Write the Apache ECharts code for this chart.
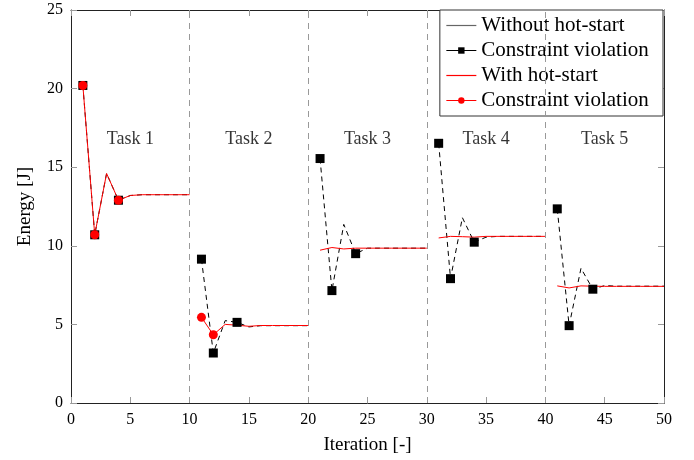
<!DOCTYPE html>
<html>
<head>
<meta charset="utf-8">
<script src="https://cdn.jsdelivr.net/npm/echarts@6/dist/echarts.min.js"></script>
<style>
  html, body { margin: 0; padding: 0; background: #fff; }
  #main { width: 694px; height: 460px; }
</style>
</head>
<body>
<div id="main"></div>
<script>
// iterations and energies
var iterations = [1, 2, 3, 4, 5, 6, 7, 8, 9, 10,
  11, 12, 13, 14, 15, 16, 17, 18, 19, 20,
  21, 22, 23, 24, 25, 26, 27, 28, 29, 30,
  31, 32, 33, 34, 35, 36, 37, 38, 39, 40,
  41, 42, 43, 44, 45, 46, 47, 48, 49, 50];
var withoutHotStart = [20.2, 10.7, 14.6, 12.9, 13.2, 13.25, 13.25, 13.25, 13.25, 13.25,
  9.15, 3.18, 5.24, 5.13, 4.84, 4.92, 4.92, 4.92, 4.92, 4.92,
  15.55, 7.15, 11.36, 9.5, 9.85, 9.85, 9.85, 9.85, 9.85, 9.85,
  16.52, 7.91, 11.79, 10.23, 10.55, 10.6, 10.6, 10.6, 10.6, 10.6,
  12.35, 4.92, 8.57, 7.24, 7.47, 7.43, 7.43, 7.43, 7.43, 7.43];
var withHotStart = [20.2, 10.7, 14.6, 12.9, 13.2, 13.25, 13.25, 13.25, 13.25, 13.25,
  5.45, 4.34, 5.0, 4.95, 4.88, 4.93, 4.93, 4.93, 4.93, 4.93,
  9.72, 9.89, 9.8, 9.85, 9.85, 9.85, 9.85, 9.85, 9.85, 9.85,
  10.5, 10.6, 10.58, 10.55, 10.6, 10.6, 10.6, 10.6, 10.6, 10.6,
  7.45, 7.32, 7.45, 7.43, 7.42, 7.42, 7.42, 7.42, 7.42, 7.42];
var violationIterWithout = [1, 2, 4, 11, 12, 14, 21, 22, 24, 31, 32, 34, 41, 42, 44];
var violationWithout = [20.2, 10.7, 12.9, 9.15, 3.18, 5.13, 15.55, 7.15, 9.5, 16.52, 7.91, 10.23, 12.35, 4.92, 7.24];
var violationIterWith = [1, 2, 4, 11, 12];
var violationWith = [20.2, 10.7, 12.9, 5.45, 4.34];
var taskBounds = [10, 20, 30, 40];
var taskNames = ["Task 1", "Task 2", "Task 3", "Task 4", "Task 5"];
var taskLabelX = [5, 15, 25, 35, 45];
var taskLabelY = [16.8, 16.8, 16.8, 16.8, 16.8];

var serif = "Liberation Serif";
var lineIcon = "path://M0,0 L30,0 L30,1.2 L0,1.2 Z";

// split lines at task boundaries
function withBreaks(ys) {
    var out = [];
    for (var i = 0; i < iterations.length; i++) {
        out.push([iterations[i], ys[i]]);
        if (taskBounds.indexOf(iterations[i]) >= 0) {
            out.push([iterations[i] + 0.5, "-"]);
        }
    }
    return out;
}
function pairs(xs, ys) {
    return xs.map(function (x, i) { return [x, ys[i]]; });
}

var chartDom = document.getElementById("main");
var myChart = echarts.init(chartDom, null, { renderer: "canvas" });

var axisCommon = {
    min: 0,
    interval: 5,
    axisLine: { show: true, onZero: false, lineStyle: { color: "#222", width: 1 } },
    axisTick: { show: true, inside: true, length: 6, lineStyle: { color: "#999" } },
    splitLine: { show: false },
};

var option = {
    backgroundColor: "#fff",
    animation: false,
    grid: { left: 71, right: 30, top: 10, bottom: 56 },
    textStyle: { fontFamily: serif },
    xAxis: [
        Object.assign({}, axisCommon, {
            type: "value",
            max: 50,
            name: "Iteration [-]",
            nameLocation: "middle",
            nameGap: 33,
            nameTextStyle: { fontFamily: serif, fontSize: 19, color: "#000" },
            axisLabel: { fontFamily: serif, fontSize: 16, color: "#000", margin: 9 },
        }),
        Object.assign({}, axisCommon, {
            type: "value",
            max: 50,
            position: "top",
            axisLabel: { show: false },
        }),
    ],
    yAxis: [
        Object.assign({}, axisCommon, {
            type: "value",
            max: 25,
            name: "Energy [J]",
            nameLocation: "middle",
            nameGap: 36,
            nameTextStyle: { fontFamily: serif, fontSize: 19, color: "#000" },
            axisLabel: { fontFamily: serif, fontSize: 16, color: "#000", margin: 8 },
        }),
        Object.assign({}, axisCommon, {
            type: "value",
            max: 25,
            position: "right",
            axisLabel: { show: false },
        }),
    ],
    legend: {
        orient: "vertical",
        right: 31,
        top: 10,
        itemWidth: 30,
        itemHeight: 8,
        itemGap: 4,
        padding: [5, 9, 5, 6],
        backgroundColor: "#fff",
        borderColor: "#333",
        borderWidth: 1,
        borderRadius: 0,
        textStyle: { fontFamily: serif, fontSize: 21, color: "#000" },
        data: [
            { name: "Without hot-start", icon: lineIcon, itemStyle: { color: "#666", opacity: 1, borderWidth: 0 } },
            { name: "Constraint violation", lineStyle: { opacity: 1, width: 1, type: "solid", color: "#000" } },
            { name: "With hot-start", icon: lineIcon, itemStyle: { color: "#ff0000", opacity: 1, borderWidth: 0, borderColor: "#ff0000" } },
            { name: "Constraint violation ", lineStyle: { opacity: 1, width: 1, type: "solid", color: "#f00" } },
        ],
    },
    series: [
        {
            name: "Without hot-start",
            type: "line",
            symbol: "none",
            data: withBreaks(withoutHotStart),
            lineStyle: { color: "#000", width: 1, type: [5, 4] },
            itemStyle: { color: "#000" },
            z: 2,
            markLine: {
                silent: true,
                symbol: ["none", "none"],
                label: { show: false },
                lineStyle: { color: "#999", type: [6, 5], width: 1 },
                data: taskBounds.map(function (b) { return { xAxis: b }; }),
            },
        },
        {
            name: "With hot-start",
            type: "line",
            symbol: "none",
            data: withBreaks(withHotStart),
            lineStyle: { color: "#f00", width: 1 },
            itemStyle: { color: "#f00" },
            z: 3,
        },
        {
            name: "Constraint violation",
            type: "line",
            symbol: "rect",
            symbolSize: 9,
            showAllSymbol: true,
            data: pairs(violationIterWithout, violationWithout),
            lineStyle: { opacity: 0 },
            itemStyle: { color: "#000" },
            z: 4,
        },
        {
            name: "Constraint violation ",
            type: "line",
            symbol: "circle",
            symbolSize: 9,
            showAllSymbol: true,
            data: pairs(violationIterWith, violationWith),
            lineStyle: { opacity: 0 },
            itemStyle: { color: "#f00" },
            z: 5,
        },
        {
            name: "tasks",
            type: "scatter",
            symbolSize: 0,
            silent: true,
            data: pairs(taskLabelX, taskLabelY).map(function (p, i) {
                return { value: p, name: taskNames[i] };
            }),
            label: {
                show: true,
                position: "inside",
                formatter: "{b}",
                fontFamily: serif,
                fontSize: 18,
                color: "#000",
            },
        },
    ],
};

option && myChart.setOption(option);
window.addEventListener("resize", function () {
    myChart.resize();
});
</script>
</body>
</html>
